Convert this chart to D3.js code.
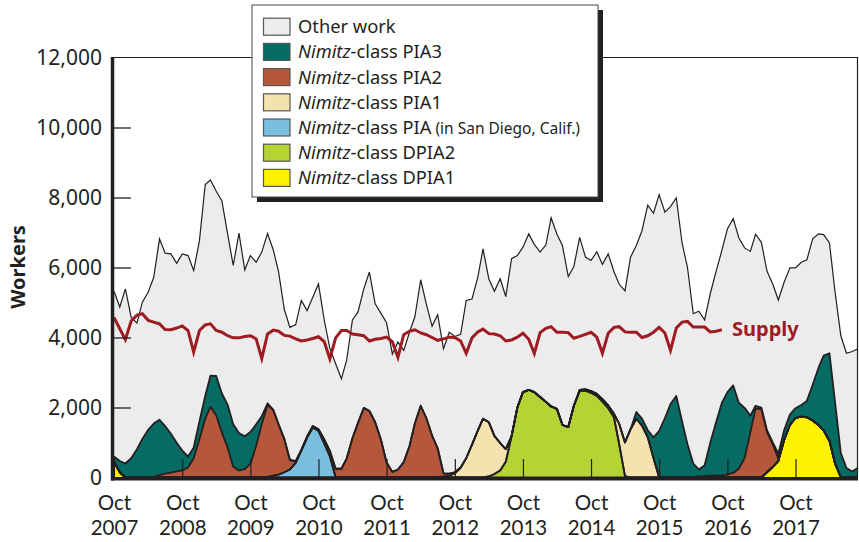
<!DOCTYPE html>
<html><head><meta charset="utf-8">
<script src="https://cdn.jsdelivr.net/npm/d3@7/dist/d3.min.js"></script>
<style>
body{margin:0;background:#fff}
svg{display:block}
text{font-family:"Noto Sans","Open Sans",sans-serif;fill:#231f20}
</style>
</head><body>
<svg id="chart" width="859" height="542"></svg>
<script>
// ---- DATA (monthly, Oct 2007 .. Sep 2018) ----
const startMonth = new Date(2007, 9, 1);
const endMonth = new Date(2018, 8, 1);

// Total workers demanded (top of "Other work")
const totalWorkers = [
  5320,4870,5390,4580,4410,5010,5290,5720,6820,6410,6390,6120,
  6390,6340,5910,6770,8370,8500,8180,7910,6960,6060,6980,5930,
  6340,6150,6440,6970,6500,5880,4800,4290,4370,5060,4770,5160,
  5530,4500,3690,3250,2820,3350,4500,4730,5390,5870,4960,4690,
  4420,3530,3870,3630,4150,4600,5650,4960,4320,4650,3680,4150,
  4030,4090,5060,5100,5720,6530,5680,5320,5680,5170,6250,6340,
  6580,6960,6660,6440,6650,7420,6960,6620,5740,6030,6860,6300,
  6200,6450,6090,6390,5880,5520,5330,6300,6630,7050,7780,7550,
  8080,7580,7740,7990,6700,6000,4680,4750,4500,5250,5880,6480,
  7100,7400,6850,6560,6460,6950,6720,5900,5530,5070,5580,5990,
  5990,6150,6220,6820,6960,6940,6700,5300,4050,3550,3600,3680
];

// Supply (Oct 2007 .. Sep 2016)
const supply = [
  4570,4250,3940,4470,4640,4680,4490,4440,4390,4230,4220,4270,
  4330,4200,3580,4200,4360,4390,4200,4150,4050,3990,3990,4030,
  4050,3960,3400,4100,4210,4180,4060,4040,3960,3900,3930,3970,
  4020,3880,3390,3990,4200,4200,4100,4080,4050,3900,3950,3970,
  4010,3880,3430,4080,4180,4220,4130,4080,4000,3920,3960,4010,
  4000,3900,3550,3990,4160,4240,4110,4100,4050,3900,3930,4010,
  4120,3950,3540,4140,4260,4310,4150,4150,4140,3980,4030,4090,
  4150,4010,3550,4120,4290,4310,4160,4150,4150,4000,4050,4150,
  4290,4130,3630,4270,4440,4460,4300,4300,4300,4160,4180,4220
];

const dpia1 = [
  450,150,0,0,0,0,0,0,0,0,0,0,
  0,0,0,0,0,0,0,0,0,0,0,0,
  0,0,0,0,0,0,0,0,0,0,0,0,
  0,0,0,0,0,0,0,0,0,0,0,0,
  0,0,0,0,0,0,0,0,0,0,0,0,
  0,0,0,0,0,0,0,0,0,0,0,0,
  0,0,0,0,0,0,0,0,0,0,0,0,
  0,0,0,0,0,0,0,0,0,0,0,0,
  0,0,0,0,0,0,0,0,0,0,0,0,
  0,0,0,0,0,0,0,150,300,470,1070,1500,
  1700,1740,1720,1630,1500,1340,1050,400,0,0,0,0
];

const dpia2 = [
  0,0,0,0,0,0,0,0,0,0,0,0,
  0,0,0,0,0,0,0,0,0,0,0,0,
  0,0,0,0,0,0,0,0,0,0,0,0,
  0,0,0,0,0,0,0,0,0,0,0,0,
  0,0,0,0,0,0,0,0,0,0,0,0,
  0,0,0,0,0,0,30,100,200,450,1180,2000,
  2440,2505,2440,2300,2160,2030,1960,1500,1440,2050,2470,2480,
  2420,2330,2170,1980,1720,950,40,0,0,0,0,0,
  0,0,0,0,0,0,0,0,0,0,0,0,
  0,0,0,0,0,0,0,0,0,0,0,0,
  0,0,0,0,0,0,0,0,0,0,0,0
];

const piaSanDiego = [
  0,0,0,0,0,0,0,0,0,0,0,0,
  0,0,0,0,0,0,0,0,0,0,0,0,
  0,0,0,20,50,80,150,230,420,760,1140,1430,
  1330,970,610,0,0,0,0,0,0,0,0,0,
  0,0,0,0,0,0,0,0,0,0,0,0,
  0,0,0,0,0,0,0,0,0,0,0,0,
  0,0,0,0,0,0,0,0,0,0,0,0,
  0,0,0,0,0,0,0,0,0,0,0,0,
  0,0,0,0,0,0,0,0,0,0,0,0,
  0,0,0,0,0,0,0,0,0,0,0,0,
  0,0,0,0,0,0,0,0,0,0,0,0
];

const pia1 = [
  0,0,0,0,0,0,0,0,0,0,0,0,
  0,0,0,0,0,0,0,0,0,0,0,0,
  0,0,0,0,0,0,0,0,0,0,0,0,
  0,0,0,0,0,0,0,0,0,0,0,0,
  0,0,0,0,0,0,0,0,0,15,30,50,
  110,270,550,940,1340,1680,1550,1090,785,360,0,0,
  0,0,0,0,0,0,0,0,0,0,30,40,
  50,60,70,80,100,580,960,1380,1680,1480,1150,550,
  0,0,0,0,0,0,0,0,0,0,0,0,
  0,0,0,0,0,0,0,0,0,0,0,0,
  0,0,0,0,0,0,0,0,0,0,0,0
];

const pia2 = [
  0,0,0,0,0,0,0,20,70,110,140,175,
  200,290,550,1100,1680,2020,1770,1290,850,310,200,240,
  390,900,1520,2050,1880,1440,950,270,50,30,30,40,
  50,120,150,250,250,540,1120,1560,1990,1900,1580,1080,
  430,160,230,440,900,1550,2050,1700,1200,820,90,60,
  40,20,0,0,0,0,0,0,0,0,0,0,
  0,0,0,0,0,0,0,0,0,0,0,0,
  0,0,0,0,0,0,0,0,0,0,0,0,
  0,0,0,0,0,0,20,30,40,50,50,60,
  90,130,250,550,1290,1970,1950,1150,650,70,0,0,
  0,0,0,0,0,0,0,0,0,0,20,30
];

const pia3 = [
  150,320,400,550,810,1100,1360,1520,1580,1360,1110,815,
  570,310,300,500,650,890,1130,1110,1230,1210,1070,940,
  910,620,230,50,0,0,0,0,0,0,0,0,
  0,0,0,0,0,0,0,0,0,0,0,0,
  0,0,0,0,0,0,0,0,0,0,0,0,
  0,0,0,0,0,0,0,0,0,0,0,0,
  0,0,0,0,0,0,0,0,0,0,0,0,
  0,0,0,0,0,0,0,0,190,200,200,600,
  1330,1700,2100,2330,1600,950,380,200,310,940,1520,2070,
  2350,2500,1890,1440,480,80,50,50,50,140,280,300,
  280,330,470,1020,1630,2140,2500,1750,700,270,150,250
];

const tickYears = [2007,2008,2009,2010,2011,2012,2013,2014,2015,2016,2017];
const yTickValues = [0,2000,4000,6000,8000,10000,12000];

const seriesKeys = ["DPIA1","DPIA2","PIASD","PIA1","PIA2","PIA3","Other"];
const seriesColors = {
  Other:"#ececec", PIA3:"#066b63", PIA2:"#b5573a", PIA1:"#f4e2af",
  PIASD:"#7abfdf", DPIA2:"#b4d334", DPIA1:"#fff200"
};
const legendItems = [
  {key:"Other", plain:"Other work"},
  {key:"PIA3", it:"Nimitz", rest:"-class PIA3"},
  {key:"PIA2", it:"Nimitz", rest:"-class PIA2"},
  {key:"PIA1", it:"Nimitz", rest:"-class PIA1"},
  {key:"PIASD", it:"Nimitz", rest:"-class PIA", small:" (in San Diego, Calif.)"},
  {key:"DPIA2", it:"Nimitz", rest:"-class DPIA2"},
  {key:"DPIA1", it:"Nimitz", rest:"-class DPIA1"}
];

// ---- BUILD ----
const months = d3.timeMonth.range(startMonth, d3.timeMonth.offset(endMonth, 1));
const rows = months.map((d, i) => {
  const r = {date:d, DPIA1:dpia1[i], DPIA2:dpia2[i], PIASD:piaSanDiego[i], PIA1:pia1[i], PIA2:pia2[i], PIA3:pia3[i]};
  r.Other = totalWorkers[i] - (r.DPIA1 + r.DPIA2 + r.PIASD + r.PIA1 + r.PIA2 + r.PIA3);
  return r;
});
const stacked = d3.stack().keys(seriesKeys)(rows);

const svg = d3.select("#chart");
const x = d3.scaleTime().domain([startMonth, endMonth]).range([114, 858]);
const y = d3.scaleLinear().domain([0, 12000]).range([477.5, 57.5]);
const dark = "#231f20";

const area = d3.area().x(d => x(d.data.date)).y0(d => y(d[0])).y1(d => y(d[1]));
const topLine = d3.line().x(d => x(d.data.date)).y(d => y(d[1]));

// areas
svg.append("g").selectAll("path").data(stacked).join("path")
  .attr("d", area).attr("fill", d => seriesColors[d.key]);

// outlines of coloured layers (top of each)
svg.append("g").selectAll("path").data(stacked.filter(s => s.key !== "Other")).join("path")
  .attr("d", topLine).attr("fill", "none").attr("stroke", dark)
  .attr("stroke-width", 1.8).attr("stroke-linejoin", "round");

// total line
svg.append("path").datum(stacked[stacked.length - 1]).attr("d", topLine)
  .attr("fill", "none").attr("stroke", dark).attr("stroke-width", 1.2);

// supply line
const supplyData = supply.map((v, i) => ({date: months[i], v}));
svg.append("path").datum(supplyData)
  .attr("d", d3.line().x(d => x(d.date)).y(d => y(d.v)))
  .attr("fill", "none").attr("stroke", "#9e1b22").attr("stroke-width", 3)
  .attr("stroke-linejoin", "miter");
svg.append("text").attr("x", 732).attr("y", 336).text("Supply")
  .style("font-weight", "bold").style("font-size", "20px").style("fill", "#9e1b22");

// frame (top & right thin)
svg.append("line").attr("x1", 113).attr("x2", 858).attr("y1", y(12000)).attr("y2", y(12000))
  .attr("stroke", dark).attr("stroke-width", 1.2);
svg.append("line").attr("x1", 857.5).attr("x2", 857.5).attr("y1", y(12000)).attr("y2", 478)
  .attr("stroke", dark).attr("stroke-width", 1.2);

// y axis
const yAxis = svg.append("g").attr("transform", "translate(113,0)")
  .call(d3.axisLeft(y).tickValues(yTickValues).tickSize(-18).tickPadding(11).tickFormat(d3.format(",")));
yAxis.select(".domain").remove();
yAxis.selectAll(".tick line").attr("stroke", dark).attr("stroke-width", 1.3)
  .filter(d => d === 0 || d === 12000).remove();
yAxis.selectAll(".tick text").style("font-size", "21px").style("fill", dark).attr("font-family", null);

// x axis
const xAxis = svg.append("g").attr("transform", "translate(0,478)")
  .call(d3.axisBottom(x).tickValues(tickYears.map(yr => new Date(yr, 9, 1))).tickSize(-19).tickFormat(""));
xAxis.select(".domain").remove();
xAxis.selectAll(".tick line").attr("stroke", dark).attr("stroke-width", 1.2);
xAxis.selectAll(".tick").each(function(d) {
  const g = d3.select(this);
  g.append("text").attr("text-anchor", "middle").attr("x", 0).attr("y", 32)
    .style("font-family", "Lato, 'Noto Sans', sans-serif").style("font-size", "20.5px").style("fill", dark).text("Oct");
  g.append("text").attr("text-anchor", "middle").attr("x", 0).attr("y", 57)
    .style("font-family", "Lato, 'Noto Sans', sans-serif").style("font-size", "20.5px").style("fill", dark).text(d.getFullYear());
});

// thick left and bottom axis lines
svg.append("line").attr("x1", 112.5).attr("x2", 112.5).attr("y1", y(12000) - 0.5).attr("y2", 480.5)
  .attr("stroke", dark).attr("stroke-width", 3.5);
svg.append("line").attr("x1", 111).attr("x2", 858).attr("y1", 478.7).attr("y2", 478.7)
  .attr("stroke", dark).attr("stroke-width", 3.5);

// y title
svg.append("text").attr("transform", "translate(25,267) rotate(-90)").attr("text-anchor", "middle")
  .style("font-size", "20px").style("font-weight", "bold").text("Workers");

// legend
const lg = svg.append("g");
lg.append("rect").attr("x", 257).attr("y", 10).attr("width", 346).attr("height", 192).attr("fill", dark);
lg.append("rect").attr("x", 252).attr("y", 5).attr("width", 346).attr("height", 192)
  .attr("fill", "#fff").attr("stroke", "#444").attr("stroke-width", 1);
legendItems.forEach((it, i) => {
  const cy = 26.7 + i * 25.2;
  lg.append("rect").attr("x", 263.5).attr("y", cy - 8.5).attr("width", 26.5).attr("height", 17)
    .attr("fill", seriesColors[it.key]).attr("stroke", "#555").attr("stroke-width", 1.2);
  const t = lg.append("text").attr("x", 298).attr("y", cy + 6.5).style("font-size", "18.3px");
  if (it.plain) { t.text(it.plain); }
  else {
    t.append("tspan").style("font-style", "italic").text(it.it);
    t.append("tspan").text(it.rest);
    if (it.small) t.append("tspan").style("font-size", "15.5px").text(it.small);
  }
});
</script>
</body></html>
